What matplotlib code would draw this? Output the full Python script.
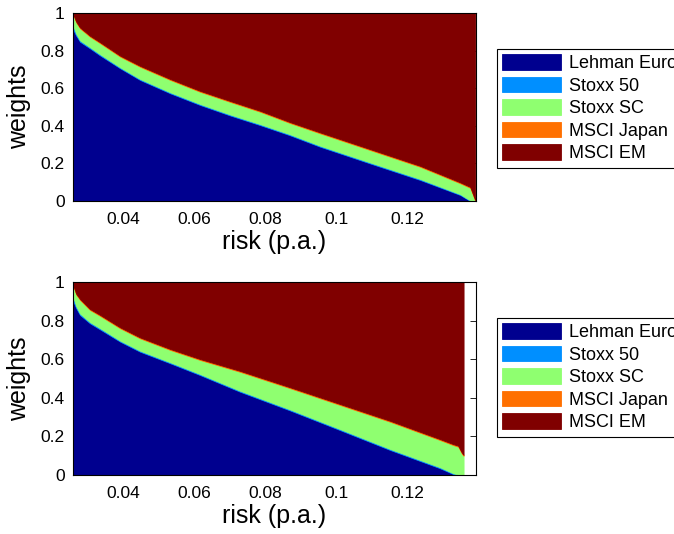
import matplotlib
matplotlib.use("Agg")
import matplotlib.pyplot as plt
import numpy as np

plt.rcParams["font.family"] = ["Liberation Sans", "DejaVu Sans"]

assets = ["Lehman Euro", "Stoxx 50", "Stoxx SC", "MSCI Japan", "MSCI EM"]
colors = ["#00008F", "#008FFF", "#8FFF70", "#FF7000", "#800000"]

# Upper panel: efficient frontier weights
risk_top = [0.0259, 0.0268, 0.0279, 0.0307, 0.0335, 0.0392, 0.0448, 0.0533, 0.0617,
            0.0702, 0.0786, 0.0870, 0.0955, 0.1096, 0.1237, 0.1350, 0.1378, 0.1392]
lehman_top = [0.915, 0.880, 0.847, 0.812, 0.775, 0.706, 0.644, 0.573, 0.511,
              0.455, 0.404, 0.350, 0.289, 0.200, 0.112, 0.032, 0.000, 0.000]
stoxx50_top = [0.020, 0.010, 0.007, 0.006, 0.006, 0.005, 0.005, 0.005, 0.005,
               0.005, 0.005, 0.005, 0.005, 0.005, 0.005, 0.004, 0.003, 0.000]
stoxxsc_top = [0.060, 0.060, 0.064, 0.056, 0.059, 0.057, 0.065, 0.066, 0.065,
               0.067, 0.066, 0.060, 0.066, 0.066, 0.065, 0.058, 0.067, 0.000]
japan_top = [0.003, 0.005, 0.005, 0.005, 0.005, 0.005, 0.005, 0.005, 0.005,
             0.005, 0.005, 0.005, 0.005, 0.005, 0.005, 0.005, 0.005, 0.005]
em_top = [0.002, 0.045, 0.077, 0.121, 0.155, 0.227, 0.281, 0.351, 0.414,
          0.468, 0.520, 0.580, 0.635, 0.724, 0.813, 0.901, 0.925, 0.995]

# Lower panel: efficient frontier weights (second estimate)
risk_bot = [0.0259, 0.0268, 0.0279, 0.0307, 0.0335, 0.0392, 0.0448, 0.0533, 0.0617,
            0.0729, 0.0870, 0.1011, 0.1152, 0.1293, 0.1330, 0.1344, 0.1354, 0.1359]
lehman_bot = [0.905, 0.865, 0.829, 0.786, 0.755, 0.691, 0.639, 0.579, 0.518,
              0.432, 0.335, 0.233, 0.130, 0.035, 0.005, 0.000, 0.000, 0.000]
stoxx50_bot = [0.020, 0.010, 0.007, 0.006, 0.006, 0.005, 0.005, 0.005, 0.005,
               0.005, 0.005, 0.005, 0.005, 0.005, 0.004, 0.002, 0.000, 0.000]
stoxxsc_bot = [0.060, 0.060, 0.071, 0.063, 0.064, 0.064, 0.064, 0.064, 0.073,
               0.098, 0.110, 0.125, 0.141, 0.141, 0.146, 0.145, 0.112, 0.100]
japan_bot = [0.003, 0.005, 0.005, 0.005, 0.005, 0.005, 0.005, 0.005, 0.005,
             0.005, 0.005, 0.005, 0.005, 0.005, 0.005, 0.005, 0.005, 0.005]
em_bot = [0.012, 0.060, 0.088, 0.140, 0.170, 0.235, 0.287, 0.347, 0.399,
          0.460, 0.545, 0.632, 0.719, 0.814, 0.840, 0.848, 0.883, 0.895]

xticks = [0.04, 0.06, 0.08, 0.1, 0.12]
xtick_labels = ["0.04", "0.06", "0.08", "0.1", "0.12"]
yticks = [0, 0.2, 0.4, 0.6, 0.8, 1]
ytick_labels = ["0", "0.2", "0.4", "0.6", "0.8", "1"]

W, H = 674, 534
fig = plt.figure(figsize=(W / 100, H / 100), dpi=100)

panels = [
    ((73, 13, 476, 201), 49, risk_top,
     [lehman_top, stoxx50_top, stoxxsc_top, japan_top, em_top]),
    ((73, 282, 476, 475), 318, risk_bot,
     [lehman_bot, stoxx50_bot, stoxxsc_bot, japan_bot, em_bot]),
]

for (x0, y0, x1, y1), leg_top, risk, series in panels:
    ax = fig.add_axes([x0 / W, 1 - y1 / H, (x1 - x0) / W, (y1 - y0) / H])
    ax.stackplot(risk, *series, colors=colors, labels=assets,
                 linewidth=0.6, edgecolor="face", antialiased=False)
    ax.set_xlim(0.0259, 0.1394)
    ax.set_ylim(0, 1)
    ax.set_axisbelow(True)
    ax.set_xticks(xticks)
    ax.set_xticklabels(xtick_labels)
    ax.set_yticks(yticks)
    ax.set_yticklabels(ytick_labels)
    ax.tick_params(direction="in", top=True, right=True, labelsize=12.5,
                   length=4, width=0.6)
    ax.tick_params(axis="x", pad=8)
    ax.tick_params(axis="y", pad=6)
    for s in ax.spines.values():
        s.set_linewidth(0.8)
        s.set_color("black")
    ax.set_xlabel("risk (p.a.)", fontsize=18, labelpad=2)
    ax.set_ylabel("weights", fontsize=18, labelpad=7)
    # the frame runs past the right edge of the figure, so the widest label is cut
    leg = ax.legend(loc="upper left",
                    bbox_to_anchor=(497 / W, 1 - leg_top / H),
                    bbox_transform=fig.transFigure,
                    fontsize=13, frameon=True, fancybox=False, shadow=False,
                    framealpha=1, edgecolor="black",
                    handlelength=3.25, handleheight=0.94, handletextpad=0.45,
                    labelspacing=0.25, borderpad=0.3, borderaxespad=0)
    leg.get_frame().set_linewidth(0.8)

fig.savefig("out.png", dpi=100)
